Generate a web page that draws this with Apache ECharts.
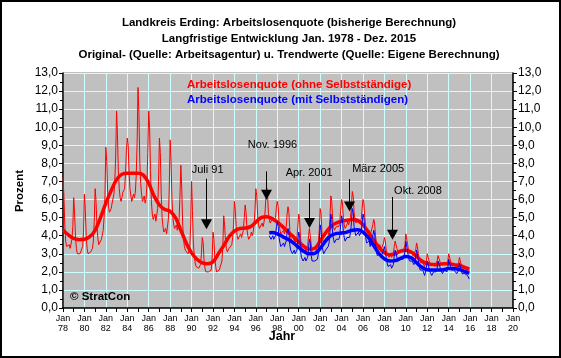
<!DOCTYPE html>
<html><head><meta charset="utf-8">
<script src="https://cdn.jsdelivr.net/npm/echarts@6/dist/echarts.min.js"></script>
<style>html,body{margin:0;padding:0;background:#fff}#c{width:561px;height:358px}</style>
</head><body><div id="c"></div>
<script>
// ---------- DATA ----------
const titleLines = [
  'Landkreis Erding: Arbeitslosenquote (bisherige Berechnung)',
  'Langfristige Entwicklung Jan. 1978 - Dez. 2015',
  'Original- (Quelle: Arbeitsagentur) u. Trendwerte (Quelle: Eigene Berechnung)'
];
const seriesNames = ['Arbeitslosenquote (ohne Selbstständige)', 'Arbeitslosenquote (mit Selbstständigen)'];
const yAxisTitle = 'Prozent';
const xAxisTitle = 'Jahr';
const copyrightText = '© StratCon';
const xTickMonth = 'Jan';

// monthly original values, ohne Selbstständige, Jan 1978 .. Dez 2015
const redRawStart = 1978;
const redRaw = [
  7.2, 6.2, 4.6, 3.7, 3.4, 3.3, 3.4, 3.5, 3.3, 3.4, 3.8, 4.5,   // 1978
  6.1, 5.2, 3.9, 3.3, 3.0, 2.9, 3.0, 3.0, 2.9, 3.0, 3.4, 4.2,   // 1979
  6.3, 5.4, 4.0, 3.3, 3.0, 2.9, 3.0, 3.1, 3.0, 3.3, 3.7, 4.8,   // 1980
  6.6, 5.9, 4.6, 3.9, 3.5, 3.4, 3.6, 3.8, 3.9, 4.3, 5.0, 6.2,   // 1981
  8.9, 8.1, 6.4, 5.6, 5.3, 5.3, 5.5, 5.8, 5.9, 6.3, 7.0, 8.4,   // 1982
  10.9, 9.6, 7.6, 6.6, 6.1, 5.9, 6.1, 6.4, 6.3, 6.6, 7.4, 8.7,  // 1983
  9.4, 9.0, 7.5, 6.6, 6.2, 5.9, 6.0, 6.3, 6.1, 6.4, 7.3, 9.1,   // 1984
  12.2, 10.8, 8.1, 6.9, 6.3, 5.9, 6.0, 6.2, 5.8, 6.0, 6.9, 8.6, // 1985
  10.9, 10.0, 7.6, 5.9, 5.2, 4.9, 5.0, 5.2, 4.8, 4.7, 5.5, 7.0, // 1986
  9.4, 8.6, 6.3, 5.0, 4.5, 4.2, 4.3, 4.4, 4.1, 4.2, 4.9, 6.6,   // 1987
  9.3, 8.1, 6.1, 5.0, 4.6, 4.4, 4.5, 4.6, 4.3, 4.3, 4.9, 6.2,   // 1988
  7.9, 6.6, 4.7, 3.8, 3.4, 3.2, 3.3, 3.3, 3.0, 2.9, 3.3, 4.6,   // 1989
  7.0, 5.4, 3.6, 2.9, 2.5, 2.3, 2.4, 2.4, 2.2, 2.2, 2.4, 3.0,   // 1990
  3.9, 3.6, 2.6, 2.2, 2.0, 1.9, 2.0, 2.0, 1.9, 1.9, 2.1, 2.7,   // 1991
  4.2, 3.8, 2.8, 2.3, 2.0, 1.9, 2.0, 2.1, 2.0, 2.2, 2.6, 3.4,   // 1992
  5.1, 4.6, 3.7, 3.3, 3.1, 3.1, 3.3, 3.4, 3.3, 3.5, 3.9, 4.6,   // 1993
  5.9, 5.4, 4.5, 4.0, 3.8, 3.8, 3.9, 4.1, 3.9, 4.0, 4.3, 5.0,   // 1994
  5.7, 5.3, 4.4, 4.0, 3.8, 3.8, 4.0, 4.2, 4.0, 4.2, 4.6, 5.4,   // 1995
  6.6, 6.2, 5.1, 4.6, 4.4, 4.3, 4.5, 4.7, 4.5, 4.7, 5.1, 5.9,   // 1996
  6.7, 6.4, 5.3, 4.9, 4.7, 4.6, 4.8, 5.0, 4.8, 4.8, 5.0, 5.6,   // 1997
  5.9, 5.6, 4.7, 4.3, 4.1, 4.0, 4.2, 4.3, 4.1, 4.2, 4.5, 5.2,   // 1998
  5.6, 5.3, 4.3, 3.9, 3.7, 3.6, 3.7, 3.8, 3.6, 3.6, 3.9, 4.5,   // 1999
  5.2, 4.9, 3.9, 3.4, 3.2, 3.1, 3.2, 3.3, 3.1, 3.1, 3.4, 4.0,   // 2000
  4.4, 4.3, 3.5, 3.1, 2.9, 2.9, 3.0, 3.1, 3.0, 3.2, 3.6, 4.3,   // 2001
  5.5, 5.2, 4.2, 3.8, 3.6, 3.6, 3.8, 3.9, 3.8, 4.0, 4.3, 5.0,   // 2002
  6.2, 5.9, 4.9, 4.5, 4.3, 4.3, 4.5, 4.6, 4.4, 4.5, 4.8, 5.4,   // 2003
  6.0, 5.8, 5.0, 4.6, 4.4, 4.4, 4.6, 4.8, 4.6, 4.7, 5.0, 5.6,   // 2004
  6.45, 6.2, 5.3, 4.9, 4.7, 4.6, 4.8, 4.9, 4.7, 4.7, 4.9, 5.5,  // 2005
  6.0, 5.8, 5.0, 4.5, 4.2, 4.1, 4.2, 4.3, 4.0, 4.0, 4.1, 4.6,   // 2006
  4.9, 4.7, 4.0, 3.6, 3.4, 3.3, 3.4, 3.5, 3.2, 3.2, 3.3, 3.6,   // 2007
  3.9, 3.7, 3.2, 3.0, 2.9, 2.8, 2.9, 3.0, 2.8, 2.8, 3.0, 3.4,   // 2008
  3.7, 3.6, 3.3, 3.1, 3.0, 3.0, 3.2, 3.3, 3.1, 3.1, 3.2, 3.5,   // 2009
  4.1, 4.0, 3.5, 3.2, 3.0, 2.9, 3.0, 3.1, 2.9, 2.8, 2.9, 3.2,   // 2010
  3.6, 3.4, 3.0, 2.7, 2.5, 2.4, 2.5, 2.5, 2.4, 2.3, 2.4, 2.6,   // 2011
  3.0, 2.9, 2.6, 2.4, 2.3, 2.3, 2.4, 2.5, 2.3, 2.3, 2.4, 2.6,   // 2012
  2.9, 2.8, 2.6, 2.4, 2.3, 2.3, 2.4, 2.5, 2.4, 2.4, 2.4, 2.6,   // 2013
  3.0, 2.9, 2.6, 2.4, 2.3, 2.3, 2.4, 2.5, 2.4, 2.3, 2.3, 2.5,   // 2014
  2.8, 2.7, 2.4, 2.2, 2.1, 2.1, 2.2, 2.3, 2.2, 2.1, 2.1, 2.1    // 2015
];

// monthly original values, mit Selbstständigen, Apr 1997 .. Dez 2015
const blueRawStart = 1997 + 3 / 12;
const blueRaw = [
  4.0, 3.9, 3.8, 3.9, 4.0, 3.8, 3.8, 4.0, 4.5,                  // 1997 (Apr-Dez)
  4.8, 4.5, 3.9, 3.6, 3.4, 3.3, 3.5, 3.6, 3.4, 3.5, 3.7, 4.2,   // 1998
  4.4, 4.2, 3.5, 3.2, 3.1, 3.0, 3.1, 3.2, 3.0, 3.0, 3.2, 3.7,   // 1999
  4.2, 4.0, 3.2, 2.8, 2.7, 2.6, 2.7, 2.8, 2.6, 2.6, 2.8, 3.3,   // 2000
  3.8, 3.6, 2.9, 2.6, 2.5, 2.5, 2.6, 2.6, 2.5, 2.7, 3.0, 3.6,   // 2001
  4.6, 4.3, 3.5, 3.2, 3.0, 3.0, 3.2, 3.3, 3.2, 3.4, 3.6, 4.2,   // 2002
  5.2, 4.9, 4.1, 3.8, 3.6, 3.6, 3.8, 3.9, 3.7, 3.8, 4.0, 4.6,   // 2003
  5.1, 4.9, 4.2, 3.9, 3.7, 3.7, 3.9, 4.0, 3.9, 3.9, 4.2, 4.7,   // 2004
  5.5, 5.3, 4.5, 4.2, 4.0, 3.9, 4.1, 4.2, 4.0, 4.0, 4.2, 4.7,   // 2005
  5.2, 5.0, 4.3, 3.9, 3.6, 3.5, 3.6, 3.7, 3.4, 3.4, 3.5, 4.0,   // 2006
  4.3, 4.1, 3.5, 3.1, 2.9, 2.9, 3.0, 3.0, 2.8, 2.8, 2.9, 3.2,   // 2007
  3.4, 3.3, 2.8, 2.5, 2.3, 2.2, 2.3, 2.4, 2.2, 2.1, 2.4, 2.9,   // 2008
  3.2, 3.1, 2.8, 2.6, 2.5, 2.5, 2.7, 2.8, 2.7, 2.7, 2.8, 3.1,   // 2009
  3.7, 3.6, 3.1, 2.8, 2.6, 2.5, 2.6, 2.6, 2.5, 2.4, 2.5, 2.8,   // 2010
  3.2, 3.0, 2.6, 2.3, 2.1, 2.0, 2.1, 2.1, 2.0, 1.8, 1.9, 2.2,   // 2011
  2.6, 2.5, 2.2, 2.0, 1.9, 1.8, 1.9, 2.0, 1.9, 1.9, 2.0, 2.2,   // 2012
  2.6, 2.5, 2.3, 2.1, 2.0, 1.9, 2.0, 2.1, 2.0, 2.0, 2.0, 2.2,   // 2013
  2.7, 2.6, 2.3, 2.1, 2.0, 2.0, 2.1, 2.2, 2.0, 1.9, 1.9, 2.1,   // 2014
  2.5, 2.4, 2.1, 1.9, 1.8, 1.8, 1.9, 2.0, 1.9, 1.8, 1.7, 1.6    // 2015
];

// trend values [year, value]
const redTrend = [
  [1978.0, 4.3], [1978.5, 4.05], [1979.0, 3.85], [1979.5, 3.78], [1980.0, 3.8], [1980.5, 3.95],
  [1981.0, 4.3], [1981.5, 5.0], [1982.0, 5.8], [1982.5, 6.5], [1983.0, 7.1], [1983.5, 7.4],
  [1984.0, 7.45], [1984.5, 7.45], [1985.0, 7.45], [1985.5, 7.35], [1986.0, 6.9], [1986.5, 6.2],
  [1987.0, 5.7], [1987.5, 5.45], [1988.0, 5.35], [1988.5, 5.0], [1989.0, 4.3], [1989.5, 3.6],
  [1990.0, 3.05], [1990.5, 2.7], [1991.0, 2.5], [1991.5, 2.45], [1992.0, 2.55], [1992.5, 3.0],
  [1993.0, 3.45], [1993.5, 3.95], [1994.0, 4.25], [1994.5, 4.4], [1995.0, 4.42], [1995.5, 4.5],
  [1996.0, 4.75], [1996.5, 5.0], [1997.0, 5.05], [1997.5, 4.95], [1998.0, 4.75], [1998.5, 4.5],
  [1999.0, 4.2], [1999.5, 3.95], [2000.0, 3.65], [2000.5, 3.4], [2001.0, 3.25], [2001.5, 3.3],
  [2002.0, 3.7], [2002.5, 4.15], [2003.0, 4.5], [2003.5, 4.7], [2004.0, 4.8], [2004.5, 4.85],
  [2005.0, 4.9], [2005.5, 4.85], [2006.0, 4.6], [2006.5, 4.2], [2007.0, 3.75], [2007.5, 3.35],
  [2008.0, 3.05], [2008.5, 2.95], [2009.0, 3.0], [2009.5, 3.15], [2010.0, 3.2], [2010.5, 3.1],
  [2011.0, 2.85], [2011.5, 2.6], [2012.0, 2.45], [2012.5, 2.4], [2013.0, 2.4], [2013.5, 2.45],
  [2014.0, 2.45], [2014.5, 2.4], [2015.0, 2.35], [2015.5, 2.25], [2015.92, 2.15]
];
const blueTrend = [
  [1997.25, 4.15], [1997.5, 4.17], [1998.0, 4.1], [1998.5, 3.95], [1999.0, 3.8], [1999.5, 3.6],
  [2000.0, 3.35], [2000.5, 3.12], [2001.0, 3.0], [2001.5, 3.02], [2002.0, 3.3], [2002.5, 3.7],
  [2003.0, 4.0], [2003.5, 4.12], [2004.0, 4.15], [2004.5, 4.2], [2005.0, 4.3], [2005.5, 4.33],
  [2006.0, 4.2], [2006.5, 3.9], [2007.0, 3.45], [2007.5, 3.0], [2008.0, 2.72], [2008.5, 2.6],
  [2009.0, 2.62], [2009.5, 2.75], [2010.0, 2.85], [2010.5, 2.78], [2011.0, 2.5], [2011.5, 2.25],
  [2012.0, 2.12], [2012.5, 2.1], [2013.0, 2.1], [2013.5, 2.12], [2014.0, 2.18], [2014.5, 2.18],
  [2015.0, 2.12], [2015.5, 2.02], [2015.92, 1.93]
];

// annotations: label, arrow year, arrow tip value, arrow top value, text value
const annoLabels = ['Juli 91', 'Nov. 1996', 'Apr. 2001', 'März 2005', 'Okt. 2008'];
const annoYears = [1991.36, 1996.95, 2000.93, 2004.68, 2008.66];
const annoTipValues = [4.35, 5.99, 4.42, 5.34, 3.78];
const annoTopValues = [7.15, 7.56, 6.91, 7.13, 6.14];
const annoTextValues = [7.65, 9.03, 7.47, 7.69, 6.49];

// ---------- LAYOUT / STYLE ----------
const FONT = '"Liberation Sans", Arial, sans-serif';
const annoTextDx = [1.5, 6.5, 0.5, 3.3, 2.6];
const annoTextAlign = ['center', 'center', 'center', 'left', 'left'];
const RED = '#ff0000', BLUE = '#0000ff';
const GRIDCOL = '#ccffff';

const chart = echarts.init(document.getElementById('c'), null, {renderer: 'canvas'});

const yFmt = v => v.toFixed(1).replace('.', ',');
const xFmt = v => xTickMonth + '\n' + String(v % 100).padStart(2, '0');

const yAxisCommon = {
  type: 'value', min: 0, max: 13, interval: 1,
  axisLine: {show: true, lineStyle: {color: '#000', width: 1.5}},
  axisTick: {show: true, length: 4, lineStyle: {color: '#000'}},
  minorTick: {show: true, splitNumber: 2, length: 3, lineStyle: {color: '#000'}},
  axisLabel: {formatter: yFmt, fontFamily: FONT, fontSize: 12, color: '#000', margin: 5},
};

chart.setOption({
  animation: false,
  backgroundColor: '#ffffff',
  grid: {left: 63, right: 48, top: 73, bottom: 50, show: true, backgroundColor: '#c0c0c0',
         borderColor: '#808080', borderWidth: 1, containLabel: false, outerBoundsMode: 'none'},
  xAxis: {
    type: 'value', min: 1978, max: 2020, interval: 2,
    axisLine: {show: true, onZero: false, lineStyle: {color: '#000', width: 1.5}},
    axisTick: {show: true, length: 4, lineStyle: {color: '#000'}},
    minorTick: {show: true, splitNumber: 2, length: 4, lineStyle: {color: '#000'}},
    splitLine: {show: true, lineStyle: {color: GRIDCOL, width: 1}},
    axisLabel: {formatter: xFmt, fontFamily: FONT, fontSize: 9, lineHeight: 10.5, color: '#000', margin: 5}
  },
  yAxis: [
    Object.assign({}, yAxisCommon, {position: 'left', splitLine: {show: true, lineStyle: {color: GRIDCOL, width: 1}}}),
    Object.assign({}, yAxisCommon, {position: 'right', splitLine: {show: false}})
  ],
  series: [
    {type: 'line', name: seriesNames[0] + ' orig', data: redRaw.map((v, i) => [redRawStart + i / 12, v]),
     showSymbol: false, symbol: 'none', lineStyle: {color: RED, width: 1}, itemStyle: {color: RED}, z: 2},
    {type: 'line', name: seriesNames[0], data: redTrend, smooth: 0.4,
     showSymbol: false, symbol: 'none', lineStyle: {color: RED, width: 3.5}, itemStyle: {color: RED}, z: 3},
    {type: 'line', name: seriesNames[1] + ' orig', data: blueRaw.map((v, i) => [blueRawStart + i / 12, v]),
     showSymbol: false, symbol: 'none', lineStyle: {color: BLUE, width: 1}, itemStyle: {color: BLUE}, z: 4},
    {type: 'line', name: seriesNames[1], data: blueTrend, smooth: 0.4,
     showSymbol: false, symbol: 'none', lineStyle: {color: BLUE, width: 3.5}, itemStyle: {color: BLUE}, z: 5}
  ]
});

// ---------- TEXT & ANNOTATIONS ----------
const g = [];
const txt = (text, x, y, opts) => Object.assign({
  type: 'text', x: x, y: y, z: 100,
  style: Object.assign({text: text, fill: '#000', fontFamily: FONT, fontSize: 11.5, fontWeight: 'bold',
                        align: 'center', verticalAlign: 'middle'}, (opts && opts.style) || {})
}, (opts && opts.el) || {});

g.push({type: 'rect', shape: {x: 1, y: 1, width: 559, height: 356}, style: {fill: null, stroke: '#000', lineWidth: 2}, z: 100});
const titleY = [22.7, 38.5, 54.5];
titleLines.forEach((t, i) => g.push(txt(t, 289, titleY[i])));
g.push(txt(seriesNames[0], 187, 85, {style: {fill: RED, align: 'left'}}));
g.push(txt(seriesNames[1], 187, 100, {style: {fill: BLUE, align: 'left'}}));
g.push(txt(yAxisTitle, 19.5, 191, {el: {rotation: Math.PI / 2}}));
g.push(txt(xAxisTitle, 282, 337, {style: {fontSize: 12.5}}));
g.push(txt(copyrightText, 70, 297, {style: {align: 'left'}}));

annoLabels.forEach((lab, i) => {
  const tip = chart.convertToPixel({gridIndex: 0}, [annoYears[i], annoTipValues[i]]);
  const top = chart.convertToPixel({gridIndex: 0}, [annoYears[i], annoTopValues[i]]);
  const tp = chart.convertToPixel({gridIndex: 0}, [annoYears[i], annoTextValues[i]]);
  const x = Math.round(tip[0]) + 0.5;
  g.push({type: 'line', z: 90, shape: {x1: x, y1: top[1], x2: x, y2: tip[1] - 9},
          style: {stroke: '#000', lineWidth: 1}});
  g.push({type: 'polygon', z: 90, shape: {points: [[x - 5.5, tip[1] - 10], [x + 5.5, tip[1] - 10], [x, tip[1]]]},
          style: {fill: '#000'}});
  g.push(txt(lab, tip[0] + annoTextDx[i], tp[1], {style: {fontWeight: 'normal', fontSize: 11, align: annoTextAlign[i]}}));
});

chart.setOption({graphic: g});
</script></body></html>
